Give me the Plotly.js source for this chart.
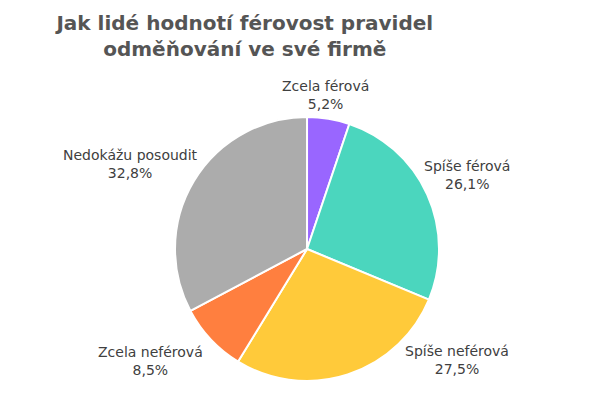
<!DOCTYPE html>
<html>
<head>
<meta charset="utf-8">
<script src="https://cdn.plot.ly/plotly-3.0.1.min.js"></script>
<style>
  html, body { margin: 0; padding: 0; background: #fff; }
  #chart { width: 600px; height: 400px; }
</style>
</head>
<body>
<div id="chart"></div>
<script>
// hodnocení férovosti (v %)
var kategorie = ["Zcela férová", "Spíše férová", "Spíše neférová", "Zcela neférová", "Nedokážu posoudit"];
var hodnoty = [5.2, 26.1, 27.5, 8.5, 32.8];
var barvy = ["#9966ff", "#4bd6be", "#ffca3a", "#ff7f3f", "#acacac"];

// kde stoji popisky (pixely od leveho horniho rohu)
var popiskyX = [325, 467, 457, 150, 130];
var popiskyY = [95, 175, 360, 361, 164];

var trace = {
  type: "pie",
  labels: kategorie,
  values: hodnoty,
  sort: false,
  direction: "clockwise",
  rotation: 0,
  marker: { colors: barvy, line: { color: "#ffffff", width: 2 } },
  textinfo: "none",
  hoverinfo: "label+percent",
  domain: { x: [0.2917, 0.7317], y: [0.0475, 0.7075] },
  showlegend: false
};

var annotations = kategorie.map(function (k, i) {
  return {
    xref: "paper",
    yref: "paper",
    x: popiskyX[i] / 600,
    y: 1 - popiskyY[i] / 400,
    xanchor: "center",
    yanchor: "middle",
    showarrow: false,
    align: "center",
    text: k + "<br>" + hodnoty[i].toFixed(1).replace(".", ",") + "%",
    font: { family: "DejaVu Sans", size: 14, color: "#404040" }
  };
});

var layout = {
  width: 600,
  height: 400,
  margin: { l: 0, r: 0, t: 0, b: 0 },
  paper_bgcolor: "#ffffff",
  annotations: annotations,
  title: {
    text: "Jak lidé hodnotí férovost pravidel<br>odměňování ve své firmě",
    x: 0.408,
    xanchor: "center",
    y: 0.925,
    yanchor: "top",
    font: { family: "DejaVu Sans", size: 20, color: "#555555", weight: "bold" }
  }
};

Plotly.newPlot("chart", [trace], layout, { displayModeBar: false, staticPlot: true });
</script>
</body>
</html>
